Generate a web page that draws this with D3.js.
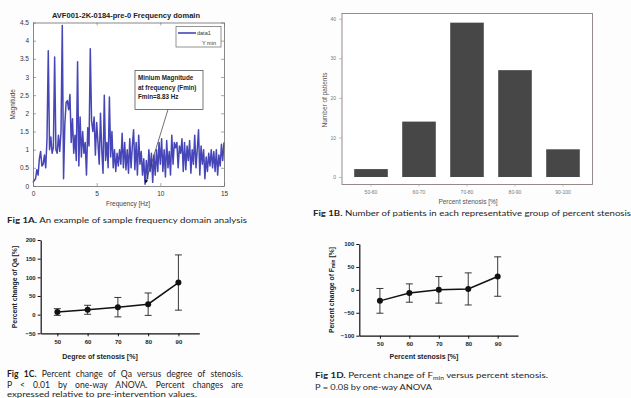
<!DOCTYPE html>
<html><head><meta charset="utf-8">
<script src="https://cdn.jsdelivr.net/npm/d3@7"></script>
<style>
html,body{margin:0;padding:0;background:#fff;}
svg{display:block;}
</style></head>
<body>
<script>
// ---------- DATA ----------
const freqStep = 0.1; // Hz between spectrum samples
const magnitude = [
0.10,0.15,0.20,0.45,0.30,0.75,0.95,0.55,0.60,0.85,
0.50,1.30,3.72,1.00,1.35,0.90,1.05,3.55,1.00,0.90,
1.40,0.95,1.50,4.42,0.20,1.70,2.30,2.35,2.10,2.52,
1.20,1.85,0.90,1.40,0.70,3.42,0.55,1.90,0.80,1.50,
0.90,1.20,0.30,1.60,1.10,3.78,1.80,1.50,1.90,0.85,
1.75,1.20,0.60,2.00,1.00,0.35,2.50,0.70,1.20,0.50,
2.45,0.80,1.50,0.50,1.00,0.40,0.90,0.55,1.00,0.60,
1.45,0.50,1.20,0.45,1.00,0.35,1.30,0.50,1.10,1.55,
0.45,1.20,0.30,1.40,0.60,0.95,0.30,0.75,0.05,0.70,
0.20,1.00,0.40,0.90,0.10,0.85,0.30,1.00,0.40,1.20,
0.60,1.30,0.40,1.00,0.25,1.25,0.50,0.95,0.30,1.40,
0.60,1.20,1.05,1.20,0.50,1.10,0.90,1.30,0.40,1.20,
0.45,1.10,0.70,1.25,0.35,1.00,0.60,1.40,0.50,1.00,
1.55,0.30,1.10,0.60,1.00,0.20,0.80,0.40,0.90,0.55,
1.00,0.50,0.95,0.40,1.00,0.30,0.85,0.55,1.15,0.70,
1.20];
const freqTicks = [0,5,10,15];
const magTicks = [0,0.5,1,1.5,2,2.5,3,3.5,4,4.5];
const magTickLabels = ["0","0.5","1","1.5","2","2.5","3","3.5","4","4.5"];

const stenosisGroups = ["50-60","60-70","70-80","80-90","90-100"];
const patientCounts = [2,14,39,27,7];
const patientTicks = [0,10,20,30,40];

const degree = [50,60,70,80,90];
const qaChange = [7,13,20,28,86];
const qaErr = [9,12,26,30,74];
const qaTicks = [-50,0,50,100,150,200];

const fminChange = [-24,-7,0,2,29];
const fminErr = [27,20,29,35,43];
const fminTicks = [-100,-50,0,50,100];

// ---------- SETUP ----------
const W = 631, H = 398;
const svg = d3.select("body").append("svg").attr("width", W).attr("height", H);
svg.append("rect").attr("width", W).attr("height", H).attr("fill", "#fdfdfd");

const capFont = "Lato, 'Open Sans', sans-serif";
const plotFont = "'Liberation Sans', Arial, sans-serif";

function caption(x, y, parts, width, mode, fs) {
  const t = svg.append("text").attr("x", x).attr("y", y)
    .attr("font-family", capFont).attr("font-size", fs || 8).attr("fill", "#1e1e1e");
  parts.forEach(p => {
    const s = t.append("tspan").text(p.t);
    if (p.b) s.attr("font-weight", "bold");
    if (p.sub) s.attr("font-size", 5.5).attr("dy", 2);
    if (p.up) s.attr("dy", -2);
  });
  if (width) {
    if (mode === "justify") {
      let nat = t.node().getComputedTextLength();
      if (nat > width) {
        t.attr("textLength", width).attr("lengthAdjust", "spacingAndGlyphs");
      } else {
        const spaces = parts.map(p => p.t).join("").split(" ").length - 1;
        t.attr("word-spacing", ((width - nat) / spaces).toFixed(2));
      }
    } else {
      t.attr("textLength", width).attr("lengthAdjust", "spacingAndGlyphs");
    }
  }
  return t;
}

// ---------- PANEL A ----------
const gA = svg.append("g");
const xA = d3.scaleLinear([0, 15], [33, 224]);
const yA = d3.scaleLinear([0, 4.5], [186, 22.5]);
gA.append("rect").attr("x", xA(0)).attr("y", yA(4.5))
  .attr("width", xA(15) - xA(0)).attr("height", yA(0) - yA(4.5))
  .attr("fill", "#fff");

const line = d3.line().x((d, i) => xA(i * freqStep)).y(d => yA(d));
gA.append("path").datum(magnitude).attr("d", line)
  .attr("fill", "none").attr("stroke", "#4646b8").attr("stroke-width", 1.5)
  .attr("stroke-linejoin", "round");

function styleA(g) {
  g.selectAll("path.domain").attr("stroke", "#6b6b6b").attr("stroke-width", 0.8);
  g.selectAll(".tick line").attr("stroke", "#6b6b6b").attr("stroke-width", 0.6);
  g.selectAll("text").attr("font-family", plotFont).attr("font-size", 6.5).attr("fill", "#333");
}
gA.append("g").attr("transform", `translate(0,${yA(0)})`)
  .call(d3.axisBottom(xA).tickValues(freqTicks).tickFormat(d3.format("d")).tickSizeInner(-3).tickSizeOuter(0).tickPadding(5))
  .call(styleA);
gA.append("g").attr("transform", `translate(0,${yA(4.5)})`)
  .call(d3.axisTop(xA).tickValues(freqTicks).tickFormat("").tickSizeInner(-3).tickSizeOuter(0))
  .call(styleA);
gA.append("g").attr("transform", `translate(${xA(0)},0)`)
  .call(d3.axisLeft(yA).tickValues(magTicks).tickFormat((d, i) => magTickLabels[i]).tickSizeInner(-3).tickSizeOuter(0).tickPadding(4))
  .call(styleA);
gA.append("g").attr("transform", `translate(${xA(15)},0)`)
  .call(d3.axisRight(yA).tickValues(magTicks).tickFormat("").tickSizeInner(-3).tickSizeOuter(0))
  .call(styleA);

gA.append("text").attr("x", 126).attr("y", 17.5).attr("text-anchor", "middle")
  .attr("font-family", plotFont).attr("font-weight", "bold").attr("font-size", 7).attr("fill", "#222")
  .attr("textLength", 148).attr("lengthAdjust", "spacingAndGlyphs")
  .text("AVF001-2K-0184-pre-0 Frequency domain");
gA.append("text").attr("x", 128).attr("y", 206).attr("text-anchor", "middle")
  .attr("font-family", plotFont).attr("font-size", 6.5).attr("fill", "#444")
  .text("Frequency [Hz]");
gA.append("text").attr("transform", `translate(15,${(yA(0) + yA(4.5)) / 2}) rotate(-90)`)
  .attr("text-anchor", "middle")
  .attr("font-family", plotFont).attr("font-size", 6.5).attr("fill", "#444")
  .text("Magnitude");

// legend
gA.append("rect").attr("x", 176).attr("y", 26.5).attr("width", 45).attr("height", 20.5)
  .attr("fill", "#fff").attr("stroke", "#666").attr("stroke-width", 0.7);
gA.append("line").attr("x1", 178).attr("x2", 196).attr("y1", 33).attr("y2", 33)
  .attr("stroke", "#4646b8").attr("stroke-width", 1.6);
gA.append("text").attr("x", 197).attr("y", 35).attr("font-family", plotFont)
  .attr("font-size", 5.5).attr("fill", "#333").text("data1");
gA.append("text").attr("x", 202).attr("y", 44.5).attr("font-family", plotFont)
  .attr("font-size", 5.5).attr("fill", "#333").text("Y min");

// annotation
gA.append("rect").attr("x", 135).attr("y", 70.5).attr("width", 68).attr("height", 39)
  .attr("fill", "#fff").attr("stroke", "#555").attr("stroke-width", 0.8);
["Minium Magnitude", "at frequency (Fmin)", "Fmin=8.83 Hz"].forEach((s, i) => {
  gA.append("text").attr("x", 138).attr("y", 80 + i * 9.5)
    .attr("font-family", plotFont).attr("font-weight", "bold").attr("font-size", 6.3)
    .attr("fill", "#222").text(s);
});
svg.append("defs").append("marker").attr("id", "ah").attr("viewBox", "0 0 10 10")
  .attr("refX", 9).attr("refY", 5).attr("markerWidth", 5).attr("markerHeight", 5)
  .attr("orient", "auto").append("path").attr("d", "M0,0L10,5L0,10z").attr("fill", "#111");
gA.append("line").attr("x1", 168).attr("y1", 109.5).attr("x2", xA(8.83)).attr("y2", yA(0.08))
  .attr("stroke", "#333").attr("stroke-width", 0.7).attr("marker-end", "url(#ah)");

caption(7, 223, [{t: "Fig 1A.", b: true}, {t: " An example of sample frequency domain analysis"}], 240);

// ---------- PANEL B ----------
const gB = svg.append("g");
const xB = d3.scaleBand(stenosisGroups, [347, 587]).paddingInner(0.3).paddingOuter(0.15);
const yB = d3.scaleLinear([0, 40], [177, 18.7]);
gB.append("rect").attr("x", 342).attr("y", 13.5).attr("width", 250.5).attr("height", 171)
  .attr("fill", "#fff").attr("stroke", "#8c7f7f").attr("stroke-width", 0.9);
gB.selectAll("rect.bar").data(patientCounts).join("rect").attr("class", "bar")
  .attr("x", (d, i) => xB(stenosisGroups[i])).attr("width", xB.bandwidth())
  .attr("y", d => yB(d)).attr("height", d => yB(0) - yB(d))
  .attr("fill", "#474747");
function styleB(g) {
  g.selectAll("path.domain").remove();
  g.selectAll(".tick line").attr("stroke", "#999").attr("stroke-width", 0.6);
  g.selectAll("text").attr("font-family", plotFont).attr("font-size", 5).attr("fill", "#777");
}
gB.append("g").attr("transform", "translate(342,0)")
  .call(d3.axisLeft(yB).tickValues(patientTicks).tickSize(3).tickPadding(3))
  .call(styleB);
gB.append("g").attr("transform", "translate(0,184.5)")
  .call(d3.axisBottom(xB).tickSize(2).tickPadding(4))
  .call(styleB);
gB.append("text").attr("x", 468).attr("y", 204).attr("text-anchor", "middle")
  .attr("font-family", plotFont).attr("font-size", 6.5).attr("fill", "#555")
  .text("Percent stenosis [%]");
gB.append("text").attr("transform", `translate(327,100) rotate(-90)`).attr("text-anchor", "middle")
  .attr("font-family", plotFont).attr("font-size", 6.5).attr("fill", "#555")
  .text("Number of patients");
caption(313, 215.5, [{t: "Fig 1B.", b: true}, {t: " Number of patients in each representative group of percent stenosis"}], 318);

// ---------- PANELS C & D ----------
function errPanel(cfg) {
  const g = svg.append("g");
  const x = d3.scaleLinear(cfg.xd, cfg.xr);
  const y = d3.scaleLinear(cfg.yd, cfg.yr);
  const ax = g.append("g").attr("transform", `translate(0,${cfg.yr[0]})`)
    .call(d3.axisBottom(x).tickValues(degree).tickFormat(d3.format("d")).tickSizeInner(3).tickSizeOuter(0).tickPadding(3));
  const ay = g.append("g").attr("transform", `translate(${cfg.xr[0]},0)`)
    .call(d3.axisLeft(y).tickValues(cfg.ticks).tickSizeInner(3).tickSizeOuter(0).tickPadding(2));
  [ax, ay].forEach(a => {
    a.selectAll("path.domain").attr("stroke", "#111").attr("stroke-width", 1.2);
    a.selectAll(".tick line").attr("stroke", "#111").attr("stroke-width", 1);
    a.selectAll("text").attr("font-family", plotFont).attr("font-weight", "bold")
      .attr("font-size", 6).attr("fill", "#222");
  });
  const vals = cfg.vals, errs = cfg.errs;
  const eb = g.selectAll("g.eb").data(vals).join("g").attr("class", "eb");
  eb.append("line").attr("x1", (d, i) => x(degree[i])).attr("x2", (d, i) => x(degree[i]))
    .attr("y1", (d, i) => y(d + errs[i])).attr("y2", (d, i) => y(d - errs[i]))
    .attr("stroke", "#222").attr("stroke-width", 0.9);
  [1, -1].forEach(sgn => {
    eb.append("line").attr("x1", (d, i) => x(degree[i]) - 3.5).attr("x2", (d, i) => x(degree[i]) + 3.5)
      .attr("y1", (d, i) => y(d + sgn * errs[i])).attr("y2", (d, i) => y(d + sgn * errs[i]))
      .attr("stroke", "#222").attr("stroke-width", 0.9);
  });
  g.append("path").datum(vals)
    .attr("d", d3.line().x((d, i) => x(degree[i])).y(d => y(d)))
    .attr("fill", "none").attr("stroke", "#111").attr("stroke-width", 1.5);
  g.selectAll("circle").data(vals).join("circle")
    .attr("cx", (d, i) => x(degree[i])).attr("cy", d => y(d)).attr("r", 3)
    .attr("fill", "#111");
  g.append("text").attr("x", cfg.xlab[0]).attr("y", cfg.xlab[1]).attr("text-anchor", "middle")
    .attr("font-family", plotFont).attr("font-weight", "bold").attr("font-size", 7).attr("fill", "#222")
    .text(cfg.xlabel);
  const yl = g.append("text").attr("transform", `translate(${cfg.ylab[0]},${cfg.ylab[1]}) rotate(-90)`)
    .attr("text-anchor", "middle").attr("font-family", plotFont).attr("font-weight", "bold")
    .attr("font-size", 6.8).attr("fill", "#222");
  cfg.ylabel(yl);
}

errPanel({
  xd: [44.5, 96.9], xr: [40.7, 199.3], yd: [-50, 200], yr: [333.3, 240],
  ticks: qaTicks, vals: qaChange, errs: qaErr,
  xlabel: "Degree of stenosis [%]", xlab: [100, 358.5],
  ylab: [17, 287],
  ylabel: t => t.text("Percent change of Qa [%]")
});
errPanel({
  xd: [43, 96.9], xr: [359.3, 518], yd: [-100, 100], yr: [335.7, 244],
  ticks: fminTicks, vals: fminChange, errs: fminErr,
  xlabel: "Percent stenosis [%]", xlab: [424, 359],
  ylab: [333.5, 290],
  ylabel: t => {
    t.append("tspan").text("Percent change of F");
    t.append("tspan").attr("font-size", 4.8).attr("dy", 1.8).text("min");
    t.append("tspan").attr("dy", -1.8).text(" [%]");
  }
});

caption(7, 376.5, [{t: "Fig 1C.", b: true}, {t: " Percent change of Qa versus degree of stenosis."}], 236, "justify", 8.6);
caption(7, 387.5, [{t: "P < 0.01 by one-way ANOVA. Percent changes are"}], 236, "justify", 8.6);
caption(7, 396.5, [{t: "expressed relative to pre-intervention values."}], 190, null, 7.6);

caption(315, 378, [{t: "Fig 1D.", b: true}, {t: " Percent change of F"}, {t: "min", sub: true}, {t: " versus percent stenosis.", up: true}], 233);
caption(315, 389.5, [{t: "P = 0.08 by one-way ANOVA"}], 117);
</script>
</body></html>
